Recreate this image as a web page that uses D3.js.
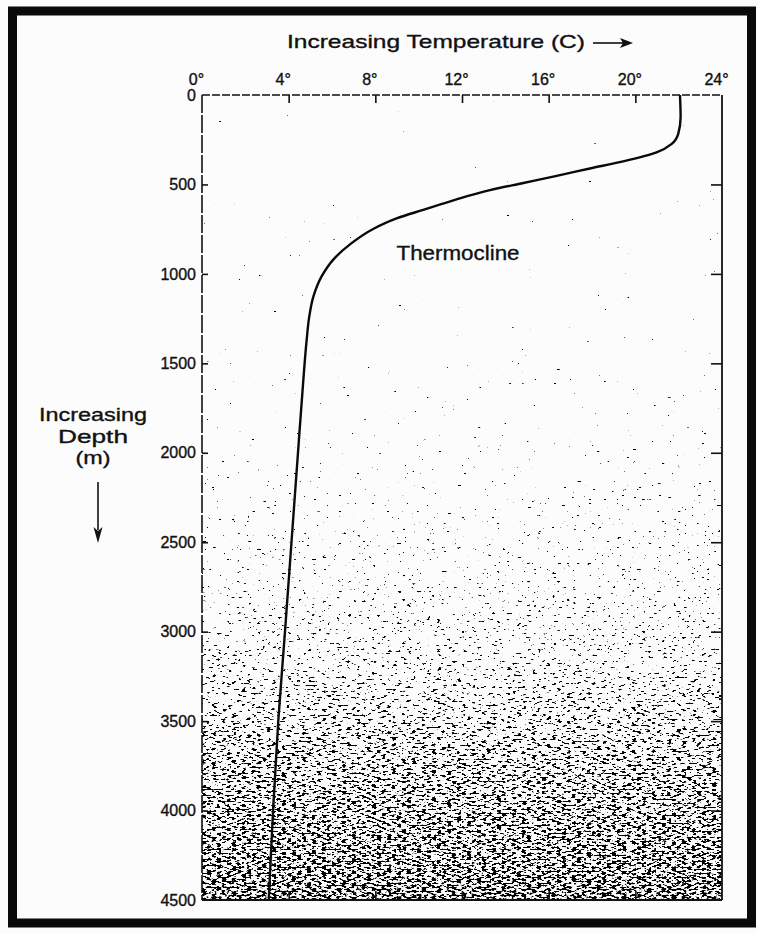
<!DOCTYPE html>
<meta charset="utf-8">
<script src="https://d3js.org/d3.v7.min.js"></script>
<style>
  body { margin: 0; background: #fcfcfc; }
  text { font-family: "Liberation Sans", Arial, Helvetica, sans-serif; fill: #111; stroke: #111; stroke-width: 0.35px; }
</style>
<div id="my_dataviz"></div>
<script>

// temperature profile: depth (m) and temperature (C)
var depths = [0, 123, 217, 273, 321, 371, 411, 452, 492, 532, 583, 642, 690, 749, 835, 920, 1014, 1127, 1239, 1370, 1620, 2000, 2500, 3000, 3500, 4000, 4500];
var temps  = [22.06, 22.09, 21.98, 21.68, 20.98, 19.44, 17.9, 16.37, 14.83, 13.29, 11.75, 10.21, 8.98, 7.9, 6.83, 6.06, 5.52, 5.14, 4.95, 4.83, 4.66, 4.43, 4.13, 3.83, 3.52, 3.28, 3.08];

// axis ticks
var tempTicks  = [0, 4, 8, 12, 16, 20, 24];
var innerTemps = [4, 8, 12, 16, 20];
var depthTicks = [0, 500, 1000, 1500, 2000, 2500, 3000, 3500, 4000, 4500];

var profile = depths.map(function(d, i) { return {depth: d, temp: temps[i]}; });

// dimensions
var margin = {top: 95, right: 35, bottom: 34, left: 202},
    width = 757 - margin.left - margin.right,
    height = 934 - margin.top - margin.bottom;

var root = d3.select("#my_dataviz")
  .append("svg")
    .attr("width", 757)
    .attr("height", 934);

// thick black border of the scanned page
root.append("rect")
  .attr("x", 12.5).attr("y", 11)
  .attr("width", 739).attr("height", 912)
  .attr("fill", "none")
  .attr("stroke", "#0a0a0a")
  .attr("stroke-width", 9);

var svg = root.append("g")
  .attr("transform", "translate(" + margin.left + "," + margin.top + ")");

var x = d3.scaleLinear().domain([0, 24]).range([0, width]);
var y = d3.scaleLinear().domain([0, 4500]).range([0, height]);

// stippled shading that gets denser with depth
var defs = root.append("defs");
var grad = defs.append("linearGradient")
  .attr("id", "deep")
  .attr("x1", 0).attr("y1", 0).attr("x2", 0).attr("y2", 1);
[[0, 0], [0.3, 0.03], [0.45, 0.08], [0.6, 0.13], [0.72, 0.19], [0.82, 0.27], [0.92, 0.32], [1, 0.35]].forEach(function(s) {
  grad.append("stop")
    .attr("offset", s[0])
    .attr("stop-color", "#000")
    .attr("stop-opacity", s[1]);
});

var filt = defs.append("filter")
  .attr("id", "stipple")
  .attr("x", 0).attr("y", 0).attr("width", 1).attr("height", 1)
  .attr("color-interpolation-filters", "sRGB");
filt.append("feTurbulence")
  .attr("type", "fractalNoise")
  .attr("baseFrequency", "0.2 0.5")
  .attr("numOctaves", 2)
  .attr("seed", 7)
  .attr("result", "noise");
filt.append("feColorMatrix")
  .attr("in", "noise")
  .attr("type", "matrix")
  .attr("values", "0 0 0 0 0  0 0 0 0 0  0 0 0 0 0  1 0 0 0 0")
  .attr("result", "n");
filt.append("feComposite")
  .attr("in", "n").attr("in2", "SourceGraphic")
  .attr("operator", "arithmetic")
  .attr("k1", 0).attr("k2", 1).attr("k3", 1).attr("k4", 0)
  .attr("result", "sum");
filt.append("feComponentTransfer")
  .attr("in", "sum")
  .append("feFuncA")
    .attr("type", "linear")
    .attr("slope", 25)
    .attr("intercept", -25 * 0.84);

svg.append("rect")
  .attr("width", width)
  .attr("height", height)
  .attr("fill", "url(#deep)")
  .attr("filter", "url(#stipple)");

// axes
var topAxis = d3.axisTop(x).tickValues(tempTicks)
  .tickSizeInner(-8).tickSizeOuter(0).tickPadding(10)
  .tickFormat(function(d) { return d + "°"; });
var gTop = svg.append("g").call(topAxis);
gTop.selectAll("text").attr("dx", -6);
gTop.selectAll(".tick").filter(function(d) { return d == 0 || d == 24; }).select("line").remove();

var leftAxis = d3.axisLeft(y).tickValues(depthTicks)
  .tickSizeInner(-6).tickSizeOuter(0).tickPadding(6)
  .tickFormat(d3.format("d"));
var gLeft = svg.append("g").call(leftAxis);
gLeft.selectAll(".tick").filter(function(d) { return d == 0 || d == 4500; }).select("line").remove();

var gRight = svg.append("g")
  .attr("transform", "translate(" + width + ",0)")
  .call(d3.axisRight(y).tickValues(depthTicks.slice(1, -1)).tickSizeInner(-11).tickSizeOuter(0).tickFormat(""));

var gBottom = svg.append("g")
  .attr("transform", "translate(0," + height + ")")
  .call(d3.axisBottom(x).tickValues(innerTemps).tickSizeInner(-9).tickSizeOuter(0).tickFormat(""));

[gTop, gLeft, gRight, gBottom].forEach(function(g) {
  g.attr("font-family", null).attr("font-size", 16).attr("color", "#111");
  g.select(".domain").remove();
  g.selectAll(".tick line").attr("stroke-width", 1.6);
});

// plot frame
svg.append("line").attr("x1", 0).attr("x2", width).attr("y1", 0).attr("y2", 0)
  .attr("stroke", "#111").attr("stroke-width", 1.6).attr("stroke-dasharray", "8,2");
svg.append("line").attr("x1", 0).attr("x2", 0).attr("y1", 0).attr("y2", height)
  .attr("stroke", "#111").attr("stroke-width", 1.6).attr("stroke-dasharray", "18,2");
svg.append("line").attr("x1", width).attr("x2", width).attr("y1", 0).attr("y2", height)
  .attr("stroke", "#111").attr("stroke-width", 1.8);
svg.append("line").attr("x1", 0).attr("x2", width).attr("y1", height).attr("y2", height)
  .attr("stroke", "#111").attr("stroke-width", 2);

// temperature profile
svg.append("path")
  .datum(profile)
  .attr("fill", "none")
  .attr("stroke", "#0a0a0a")
  .attr("stroke-width", 2.4)
  .attr("d", d3.line()
    .curve(d3.curveMonotoneY)
    .x(function(d) { return x(d.temp); })
    .y(function(d) { return y(d.depth); }));

svg.append("text")
  .attr("x", 256).attr("y", 165)
  .attr("text-anchor", "middle")
  .attr("font-size", 20)
  .attr("textLength", 123)
  .attr("lengthAdjust", "spacingAndGlyphs")
  .text("Thermocline");

// titles
root.append("text")
  .attr("x", 287).attr("y", 48)
  .attr("font-size", 19)
  .attr("textLength", 298)
  .attr("lengthAdjust", "spacingAndGlyphs")
  .text("Increasing Temperature (C)");

root.append("line")
  .attr("x1", 593).attr("x2", 624).attr("y1", 43).attr("y2", 43)
  .attr("stroke", "#111").attr("stroke-width", 1.6);
root.append("path")
  .attr("d", "M633,43 L620,38 L623,43 L620,48 Z")
  .attr("fill", "#111");

var side = root.append("text")
  .attr("text-anchor", "middle")
  .attr("font-size", 19);
[["Increasing", 421, 108], ["Depth", 443, 70], ["(m)", 464, 35]].forEach(function(r) {
  side.append("tspan")
    .attr("x", 93).attr("y", r[1])
    .attr("textLength", r[2])
    .attr("lengthAdjust", "spacingAndGlyphs")
    .text(r[0]);
});

root.append("line")
  .attr("x1", 98).attr("x2", 98).attr("y1", 482).attr("y2", 530)
  .attr("stroke", "#111").attr("stroke-width", 1.6);
root.append("path")
  .attr("d", "M98,543 L93.5,527 L98,531 L102.5,527 Z")
  .attr("fill", "#111");

</script>
